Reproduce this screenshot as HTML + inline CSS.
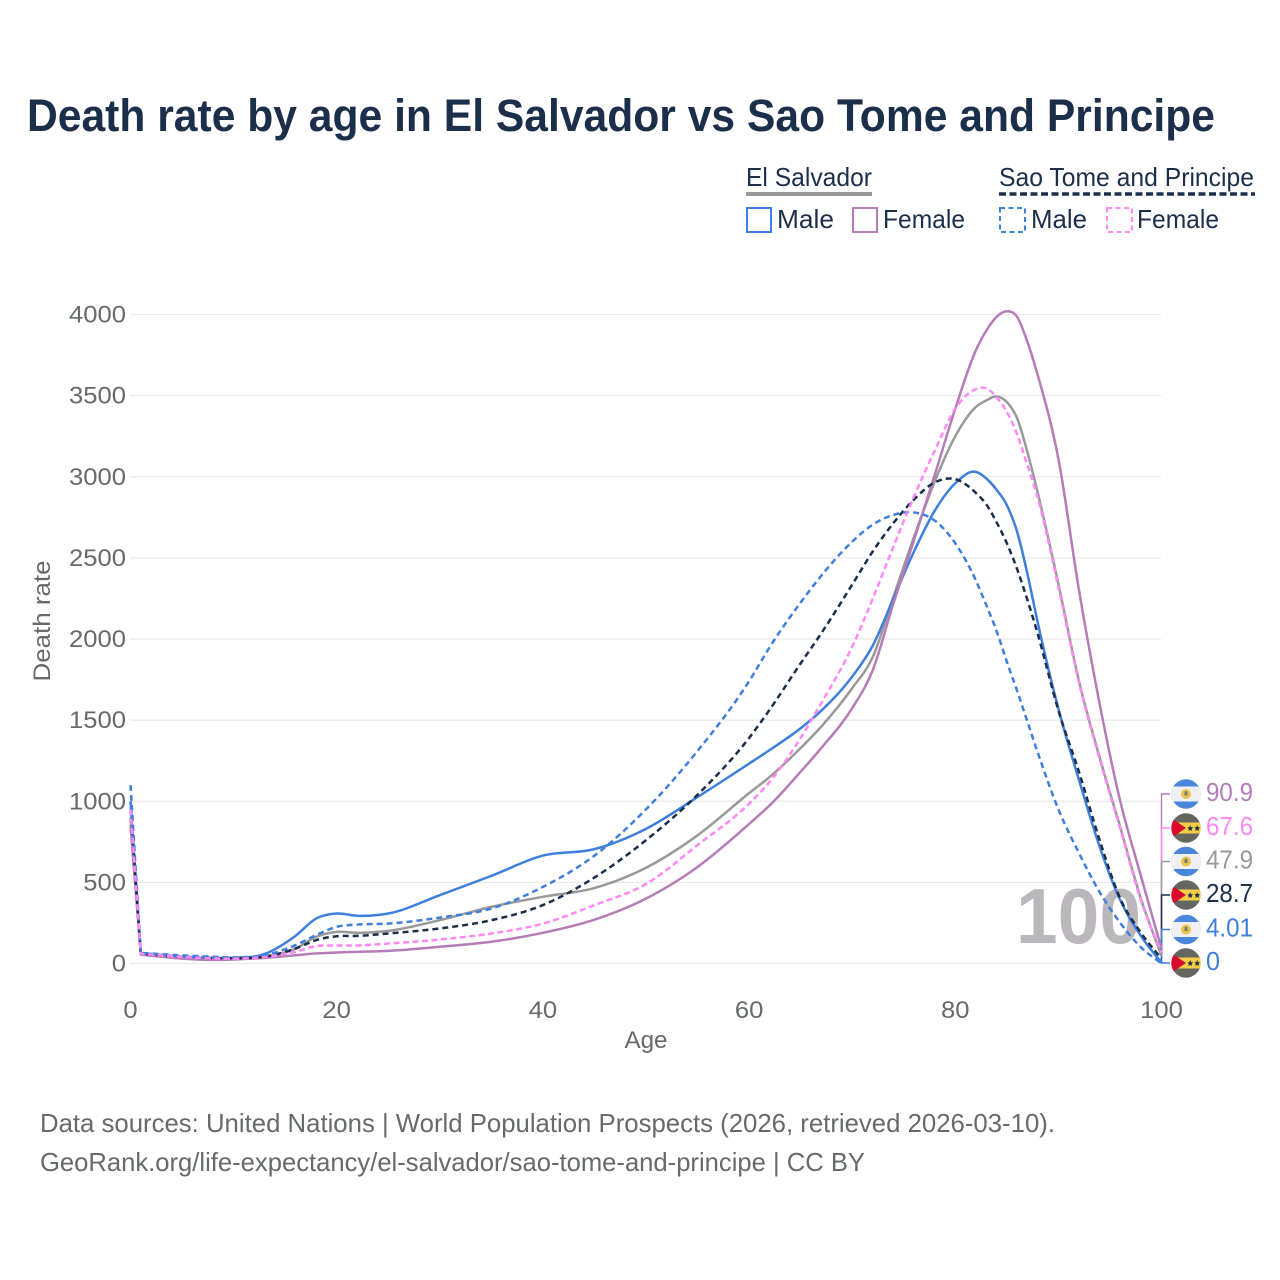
<!DOCTYPE html>
<html lang="en">
<head>
<meta charset="utf-8">
<title>Death rate by age in El Salvador vs Sao Tome and Principe</title>
<style>
html,body{margin:0;padding:0;background:#fff;}
svg{display:block;font-family:"Liberation Sans",sans-serif;}
</style>
</head>
<body>
<svg id="chart" width="1280" height="1280" viewBox="0 0 1280 1280" xmlns="http://www.w3.org/2000/svg">
  <rect width="1280" height="1280" fill="#fff"/>
  <text x="27" y="131" font-size="45" font-weight="700" fill="#1b2f4b" textLength="1188" lengthAdjust="spacingAndGlyphs">Death rate by age in El Salvador vs Sao Tome and Principe</text>

  <g font-size="26" fill="#1b2f4b">
    <text x="746" y="186" textLength="126" lengthAdjust="spacingAndGlyphs">El Salvador</text>
    <rect x="746" y="192" width="126" height="4" fill="#999"/>
    <text x="999" y="186" textLength="255" lengthAdjust="spacingAndGlyphs">Sao Tome and Principe</text>
    <line x1="999" y1="194" x2="1255" y2="194" stroke="#1b2f4b" stroke-width="3.5" stroke-dasharray="7 3.5"/>
    <rect x="747" y="208" width="24" height="24" fill="none" stroke="#3f7fdc" stroke-width="2"/>
    <text x="777" y="228" textLength="57" lengthAdjust="spacingAndGlyphs">Male</text>
    <rect x="853" y="208" width="24" height="24" fill="none" stroke="#b57cb8" stroke-width="2"/>
    <text x="883" y="228" textLength="82" lengthAdjust="spacingAndGlyphs">Female</text>
    <rect x="1000" y="208" width="25" height="24" fill="none" stroke="#3f7fdc" stroke-width="2" stroke-dasharray="5 3.5"/>
    <text x="1031" y="228" textLength="56" lengthAdjust="spacingAndGlyphs">Male</text>
    <rect x="1107" y="208" width="25" height="24" fill="none" stroke="#ff88f5" stroke-width="2" stroke-dasharray="5 3.5"/>
    <text x="1137" y="228" textLength="82" lengthAdjust="spacingAndGlyphs">Female</text>
  </g>

  <g id="grid"></g>
  <g id="yticks" font-size="24" fill="#666a68" text-anchor="end"></g>
  <g id="xticks" font-size="24" fill="#666a68" text-anchor="middle"></g>
  <text transform="translate(50,621) rotate(-90)" font-size="24" fill="#666a68" text-anchor="middle" textLength="121" lengthAdjust="spacingAndGlyphs">Death rate</text>
  <text x="646" y="1048" font-size="24" fill="#666a68" text-anchor="middle" textLength="43" lengthAdjust="spacingAndGlyphs">Age</text>

  <text x="1016" y="943" font-size="78" font-weight="700" fill="#bab8bc" textLength="125" lengthAdjust="spacingAndGlyphs">100</text>

  <defs>
    <clipPath id="flag-clip"><circle cx="0" cy="0" r="14.7"/></clipPath>
  </defs>

  <g id="connectors"></g>
  <g id="series"></g>
  <g id="endlabels"></g>

  <g font-size="26" fill="#666a68">
    <text x="40" y="1132" textLength="1015" lengthAdjust="spacingAndGlyphs">Data sources: United Nations | World Population Prospects (2026, retrieved 2026-03-10).</text>
    <text x="40" y="1171" textLength="825" lengthAdjust="spacingAndGlyphs">GeoRank.org/life-expectancy/el-salvador/sao-tome-and-principe | CC BY</text>
  </g>
</svg>

<script>
const ages = [0,1,5,8,10,13,16,18,20,22,25,30,35,40,45,50,55,60,62,65,67,70,72,74,76,78,80,82,83,84,85,86,87,88,90,92,94,96,98,100];
const elSalvadorMale = [1000,65,42,35,35,58,170,277,308,294,308,421,540,665,705,830,1026,1232,1316,1450,1558,1768,1960,2250,2540,2790,2960,3030,2990,2920,2825,2660,2400,2100,1570,1130,720,390,170,4.01];
const elSalvadorFemale = [850,55,30,22,25,35,51,62,68,72,78,103,134,189,270,400,595,860,975,1182,1328,1574,1809,2220,2610,3010,3420,3780,3900,3985,4020,3985,3830,3625,3110,2300,1600,1000,540,90.9];
const elSalvadorBoth = [900,60,36,28,30,37,92,164,195,189,201,267,349,411,465,590,790,1050,1150,1328,1460,1697,1890,2260,2630,2970,3250,3430,3470,3495,3460,3360,3150,2900,2340,1740,1270,840,400,47.9];
const saoTomeBoth = [950,60,40,33,33,42,92,144,168,170,185,216,267,360,530,760,1040,1390,1565,1850,2035,2335,2540,2715,2860,2965,2985,2900,2830,2720,2590,2430,2240,2030,1560,1180,760,400,190,28.7];
const saoTomeMale = [1100,65,50,42,38,51,113,175,226,240,246,283,339,472,665,950,1310,1740,1950,2225,2390,2600,2705,2765,2780,2730,2590,2360,2210,2050,1860,1680,1490,1300,950,680,440,250,100,0];
const saoTomeFemale = [950,60,40,32,30,40,72,107,111,111,123,148,185,246,360,490,730,985,1120,1390,1605,1953,2250,2570,2880,3160,3420,3540,3545,3490,3400,3260,3070,2870,2320,1730,1260,830,390,67.6];
const yTickValues = [0,500,1000,1500,2000,2500,3000,3500,4000];
const xTickValues = [0,20,40,60,80,100];
const endLabelValues = ["90.9","67.6","47.9","28.7","4.01","0"];

const NS = 'http://www.w3.org/2000/svg';
const xScale = a => 130.5 + a * 10.31;
const yScale = v => 963.5 - v * 0.16225;

function make(tag, attrs) {
  const el = document.createElementNS(NS, tag);
  for (const k in attrs) el.setAttribute(k, attrs[k]);
  return el;
}

/* Smooth cubic path through data points; first segment stays straight */
function linePath(xs, ys) {
  const px = xs.map(xScale), py = ys.map(yScale), n = px.length;
  const d = [], m = new Array(n);
  for (let i = 0; i < n - 1; i++) d.push((py[i + 1] - py[i]) / (px[i + 1] - px[i]));
  m[0] = d[0];
  m[n - 1] = d[n - 2];
  for (let i = 1; i < n - 1; i++) {
    const h0 = px[i] - px[i - 1], h1 = px[i + 1] - px[i];
    m[i] = (h1 * d[i - 1] + h0 * d[i]) / (h0 + h1);
  }
  m[1] = d[1];
  let out = 'M' + px[0].toFixed(2) + ' ' + py[0].toFixed(2) + 'L' + px[1].toFixed(2) + ' ' + py[1].toFixed(2);
  for (let i = 1; i < n - 1; i++) {
    const h = (px[i + 1] - px[i]) / 3;
    out += 'C' + (px[i] + h).toFixed(2) + ' ' + (py[i] + m[i] * h).toFixed(2) + ' ' +
      (px[i + 1] - h).toFixed(2) + ' ' + (py[i + 1] - m[i + 1] * h).toFixed(2) + ' ' +
      px[i + 1].toFixed(2) + ' ' + py[i + 1].toFixed(2);
  }
  return out;
}

const gridG = document.getElementById('grid');
const yTicksG = document.getElementById('yticks');
yTickValues.forEach(v => {
  const line = make('line', {x1: 130, x2: 1161, y1: yScale(v), y2: yScale(v), stroke: '#e9e9e9', 'stroke-width': 1.2});
  
  
  gridG.appendChild(line);
  const t = make('text', {x: 126, y: yScale(v) + 8, textLength: String(v).length * 14.25, lengthAdjust: 'spacingAndGlyphs'});
  
  
  t.textContent = v;
  yTicksG.appendChild(t);
});

const xTicksG = document.getElementById('xticks');
xTickValues.forEach(v => {
  const t = make('text', {x: xScale(v), y: 1018, textLength: String(v).length * 14.25, lengthAdjust: 'spacingAndGlyphs'});
  
  
  t.textContent = v;
  xTicksG.appendChild(t);
});

const seriesG = document.getElementById('series');
function drawSeries(values, name, color, dash, width) {
  const p = make('path', {d: linePath(ages, values), fill: 'none', stroke: color, 'stroke-width': width, 'stroke-linejoin': 'round'});
  if (dash) p.setAttribute('stroke-dasharray', dash);
  
  
  seriesG.appendChild(p);
}
drawSeries(elSalvadorBoth, 'line-el-salvador-both', '#999999', '', 2.5);
drawSeries(elSalvadorMale, 'line-el-salvador-male', '#3f7fdc', '', 2.5);
drawSeries(elSalvadorFemale, 'line-el-salvador-female', '#b57cb8', '', 2.5);
drawSeries(saoTomeBoth, 'line-sao-tome-both', '#1b2f4b', '6 4', 2.5);
drawSeries(saoTomeMale, 'line-sao-tome-male', '#3f7fdc', '6 4', 2.5);
drawSeries(saoTomeFemale, 'line-sao-tome-female', '#ff88f5', '6 3.5', 2.5);

/* End-of-line labels with flags, top to bottom */
const labelColors = ['#b57cb8','#ff88f5','#999999','#1b2f4b','#3f7fdc','#3f7fdc'];
const labelFlags = ['sv','st','sv','st','sv','st'];
const labelYs = [794,828,861.5,895,929.5,963];
const labelWidths = [47,47,47,47,47,14];
const endSeries = [elSalvadorFemale, saoTomeFemale, elSalvadorBoth, saoTomeBoth, elSalvadorMale, saoTomeMale];

const connG = document.getElementById('connectors');
endSeries.forEach((vals, i) => {
  const y0 = yScale(vals[vals.length - 1]);
  const p = make('path', {d: 'M1161.5 ' + y0.toFixed(1) + 'L1161.5 ' + labelYs[i] + 'L1170 ' + labelYs[i], fill: 'none', stroke: labelColors[i], 'stroke-width': 1.4});
  
  
  connG.appendChild(p);
});

function svFlag(g) {
  [['#4a86dc', -15, 30], ['#f0f0f2', -7.5, 15]].forEach(r => {
    g.appendChild(make('rect', {x: -15, y: r[1], width: 30, height: r[2], fill: r[0]}));
  });
  g.appendChild(make('circle', {cx: 0, cy: 0, r: 5, fill: '#e9c34a'}));
  g.appendChild(make('path', {d: 'M-1.5 -2.2L0 -3.2L1.5 -2.2L1.5 1.5L-1.5 1.5Z', fill: '#7a7f70'}));
}
function stFlag(g) {
  g.appendChild(make('rect', {x: -15, y: -15, width: 30, height: 30, fill: '#64675f'}));
  g.appendChild(make('rect', {x: -15, y: -5.5, width: 30, height: 11, fill: '#f6cf47'}));
  g.appendChild(make('path', {d: 'M-15 -10L0 0L-15 10Z', fill: '#d90a2c'}));
  [4.2, 11.2].forEach(cx => {
    const s = make('path', {d: 'M' + cx + ' -3L' + (cx + 0.9) + ' -0.8L' + (cx + 3) + ' -0.6L' + (cx + 1.4) + ' 0.9L' + (cx + 1.9) + ' 3L' + cx + ' 1.9L' + (cx - 1.9) + ' 3L' + (cx - 1.4) + ' 0.9L' + (cx - 3) + ' -0.6L' + (cx - 0.9) + ' -0.8Z', fill: '#1b2f4b'});
    g.appendChild(s);
  });
}

const labelG = document.getElementById('endlabels');
endLabelValues.forEach((txt, i) => {
  const flag = make('g', {transform: 'translate(1186,' + labelYs[i] + ')', 'clip-path': 'url(#flag-clip)'});
  
  
  if (labelFlags[i] === 'sv') svFlag(flag); else stFlag(flag);
  labelG.appendChild(flag);
  const t = make('text', {x: 1206, y: labelYs[i] + 7, 'font-size': 26, fill: labelColors[i], textLength: labelWidths[i], lengthAdjust: 'spacingAndGlyphs'});
  
  
  t.textContent = txt;
  labelG.appendChild(t);
});
</script>
</body>
</html>
